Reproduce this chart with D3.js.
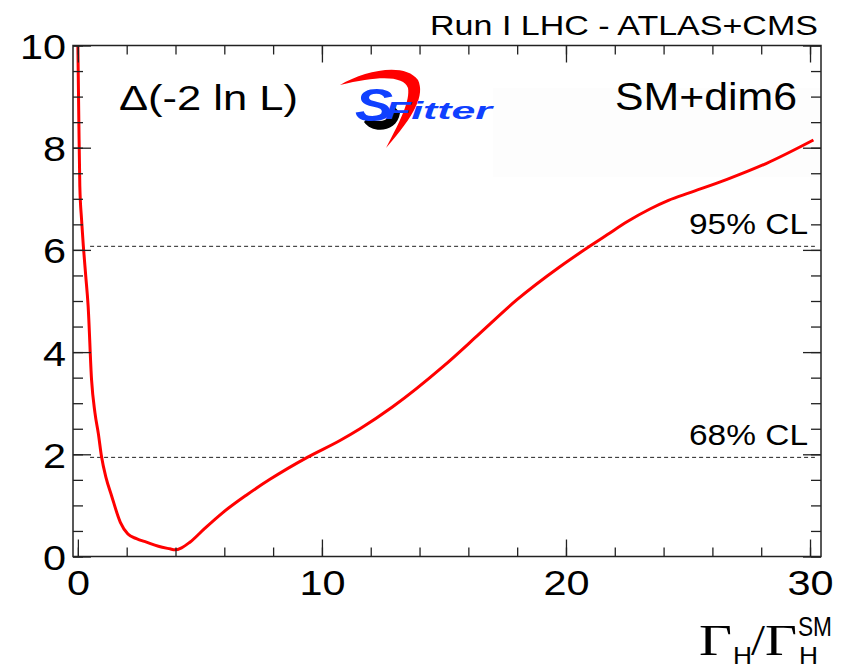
<!DOCTYPE html>
<html>
<head>
<meta charset="utf-8">
<script src="https://cdn.jsdelivr.net/npm/d3@7"></script>
<style>
  body { margin: 0; background: #fff; }
  svg { display: block; font-family: "Liberation Sans", Arial, sans-serif; }
</style>
</head>
<body>
<div id="chart"></div>
<script>
// values
const gammaRatio = [0, 0.04, 0.08, 0.15, 0.22, 0.32, 0.42, 0.56, 0.70, 0.84, 0.97, 1.15, 1.38, 1.74, 2.05, 2.4, 2.81, 3.3, 3.77, 3.98, 4.25, 4.59, 5.2, 5.94, 6.9, 7.87, 9.4, 10.74, 11.56, 12.9, 14.97, 16.48, 17.98, 19.75, 21.0, 21.7, 22.5, 23.44, 24.2, 25.08, 26.6, 28.2, 30.14]
const deltaChi2 = [10, 8.5, 7.24, 6.6, 6.1, 5.5, 4.9, 3.46, 2.81, 2.4, 1.95, 1.55, 1.19, 0.67, 0.44, 0.35, 0.28, 0.2, 0.15, 0.13, 0.17, 0.28, 0.55, 0.86, 1.2, 1.51, 1.94, 2.27, 2.5, 2.93, 3.72, 4.37, 5.02, 5.67, 6.08, 6.3, 6.55, 6.8, 6.97, 7.12, 7.38, 7.69, 8.15]
const clLabels = ["68% CL", "95% CL"]
const clLevels = [1.94, 6.07]
const clRange = [0.5, 30.2]
const xMajor = [0, 10, 20, 30]
const xMinor = d3.range(0, 31, 2)
const yMajor = [0, 2, 4, 6, 8, 10]
const yMinor = d3.range(0, 10.01, 0.5)

const width = 842, height = 670
const frame = {left: 73, right: 821, top: 45.5, bottom: 556.5}

const svg = d3.select("#chart").append("svg")
  .attr("width", width)
  .attr("height", height)

const x = d3.scaleLinear().domain([-0.2, 30.45]).range([frame.left, frame.right])
const y = d3.scaleLinear().domain([0, 10]).range([frame.bottom, frame.top])

// faint legend box behind SM+dim6
svg.append("rect")
  .attr("x", 493).attr("y", 88)
  .attr("width", frame.right - 493).attr("height", 89)
  .attr("fill", "#fdfdfd")

svg.append("clipPath").attr("id", "clip")
  .append("rect")
  .attr("x", frame.left).attr("y", frame.top)
  .attr("width", frame.right - frame.left).attr("height", frame.bottom - frame.top)

// confidence level lines
svg.selectAll(".cl")
  .data(clLevels)
  .enter().append("line")
  .attr("x1", x(clRange[0])).attr("x2", x(clRange[1]))
  .attr("y1", d => y(d)).attr("y2", d => y(d))
  .attr("stroke", "#222")
  .attr("stroke-width", 1)
  .attr("stroke-dasharray", "4,3")

svg.selectAll(".cl-label")
  .data(clLabels)
  .enter().append("text")
  .attr("x", 689)
  .attr("y", (d, i) => y(clLevels[i]) - 12)
  .attr("font-size", 30)
  .attr("textLength", 119)
  .attr("lengthAdjust", "spacingAndGlyphs")
  .text(d => d)

// the likelihood curve
const line = d3.line()
  .x((d, i) => x(gammaRatio[i]))
  .y(d => y(d))
  .curve(d3.curveMonotoneX)

svg.append("path")
  .datum(deltaChi2)
  .attr("clip-path", "url(#clip)")
  .attr("d", line)
  .attr("fill", "none")
  .attr("stroke", "#ff0000")
  .attr("stroke-width", 3)

// axes, ROOT style ticks pointing inwards
function ticks(axis, pos, vals, size, labels) {
  const g = svg.append("g")
    .attr("transform", pos)
    .call(axis.tickValues(vals).tickSize(-size).tickPadding(labels ? 6 : 0)
      .tickFormat(labels ? d3.format("d") : ""))
  g.select(".domain").remove()
  g.selectAll("line").attr("stroke", "#222").attr("stroke-width", 1.3)
  g.selectAll("text").attr("font-size", 36).attr("fill", "#000")
    .attr("font-family", "Liberation Sans, Arial, sans-serif")
  return g
}

const gx = ticks(d3.axisBottom(x), `translate(0,${frame.bottom})`, xMajor, 17, true)
gx.selectAll("text").attr("y", 39).attr("dy", null).attr("transform", "scale(1.15,1)")
ticks(d3.axisBottom(x), `translate(0,${frame.bottom})`, xMinor, 9, false)
ticks(d3.axisTop(x), `translate(0,${frame.top})`, xMajor, 17, false)
ticks(d3.axisTop(x), `translate(0,${frame.top})`, xMinor, 9, false)

const gy = ticks(d3.axisLeft(y), `translate(${frame.left},0)`, yMajor, 18, true)
gy.selectAll("text").attr("x", -6).attr("dy", "0.36em").attr("transform", "scale(1.15,1)")
ticks(d3.axisLeft(y), `translate(${frame.left},0)`, yMinor, 10, false)
ticks(d3.axisRight(y), `translate(${frame.right},0)`, yMajor, 18, false)
ticks(d3.axisRight(y), `translate(${frame.right},0)`, yMinor, 10, false)

svg.append("rect")
  .attr("x", frame.left).attr("y", frame.top)
  .attr("width", frame.right - frame.left).attr("height", frame.bottom - frame.top)
  .attr("fill", "none")
  .attr("stroke", "#222")
  .attr("stroke-width", 1.5)

// texts
function label(str, xpos, ypos, size, len, opts) {
  const t = svg.append("text")
    .attr("x", xpos).attr("y", ypos)
    .attr("font-size", size)
    .attr("textLength", len)
    .attr("lengthAdjust", "spacingAndGlyphs")
    .text(str)
  if (opts && opts.serif) t.attr("font-family", "Liberation Serif, Times New Roman, serif")
  return t
}

label("Run I LHC - ATLAS+CMS", 430, 35, 28, 388)
label("\u0394(-2 ln L)", 119, 110, 35, 179)
label("SM+dim6", 615, 110, 39, 182)

// x axis title  Gamma_H / Gamma_H^SM
label("\u0393", 699, 655, 44, 33, {serif: true})
label("H", 733, 664, 24, 19)
label("/", 751, 655, 44, 14, {serif: true})
label("\u0393", 765, 655, 44, 32, {serif: true})
label("SM", 798, 636, 28, 34)
label("H", 799, 664, 24, 19)

// SFitter logo
const logo = svg.append("g")
logo.append("path")
  .attr("d", "M340,85 C365,70 405,62 418,80 C425,95 415,115 386,148 C402,118 410,100 408,88 C404,76 380,75 340,85 Z")
  .attr("fill", "#ff0000")
logo.append("path")
  .attr("d", "M364,122 C372,134 397,133 400,113 L393,105 C393,119 381,126 368,117 Z")
  .attr("fill", "#000")
logo.append("text")
  .attr("x", 355).attr("y", 121)
  .attr("font-size", 46).attr("font-weight", "bold").attr("font-style", "italic")
  .attr("textLength", 38).attr("lengthAdjust", "spacingAndGlyphs")
  .attr("fill", "#1040ff")
  .text("S")
logo.append("text")
  .attr("x", 385).attr("y", 119)
  .attr("font-size", 24).attr("font-weight", "bold").attr("font-style", "italic")
  .attr("textLength", 107).attr("lengthAdjust", "spacingAndGlyphs")
  .attr("fill", "#1040ff")
  .text("Fitter")
</script>
</body>
</html>
